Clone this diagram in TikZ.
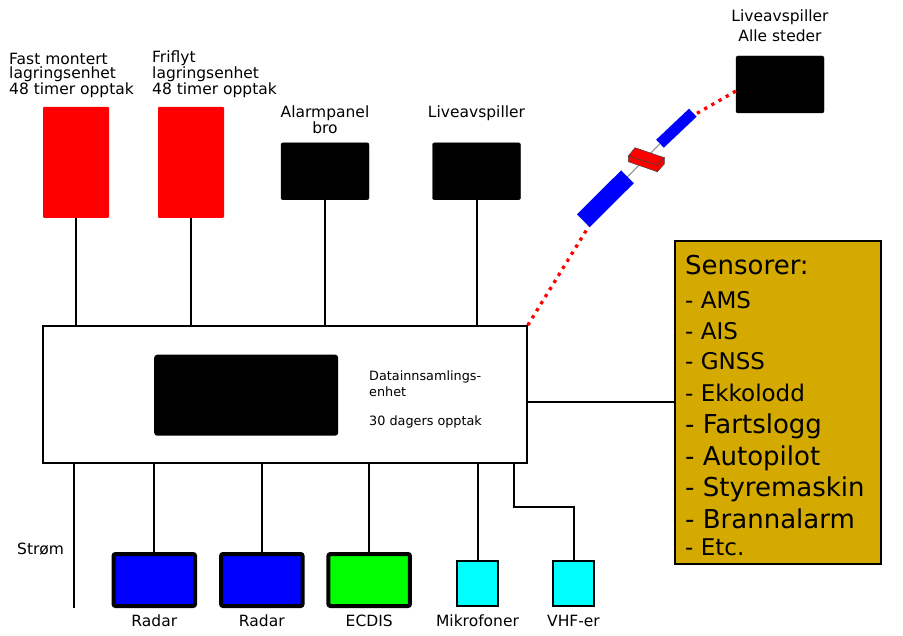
\documentclass[tikz,border=0pt]{standalone}
\usepackage{fontspec}
\setmainfont{DejaVu Sans}
\usetikzlibrary{positioning}
\definecolor{sensgull}{HTML}{D4AA00}
\definecolor{lyscyan}{HTML}{00FFFF}
\definecolor{skjermblaa}{HTML}{0000FF}
\definecolor{skjermgronn}{HTML}{00FF00}

\tikzset{
  lbl/.style={font=\fontsize{15.5}{14.5}\selectfont, inner sep=0pt},
  lagring/.style={fill=red, minimum width=66pt, minimum height=111pt, rounded corners=1pt, inner sep=0pt},
  skjerm/.style={fill=black, draw=black, minimum width=88pt, minimum height=57pt, rounded corners=2pt, inner sep=0pt},
  linje/.style={line width=2pt},
  radarboks/.style={draw=black, line width=4pt, minimum width=81.5pt, minimum height=52pt, rounded corners=2pt, inner sep=0pt},
  lydboks/.style={draw=black, line width=2pt, fill=lyscyan, minimum width=41pt, minimum height=45pt, inner sep=0pt},
  prikker/.style={red, line width=3.3pt, dash pattern=on 3.3pt off 5pt},
}

\begin{document}
\begin{tikzpicture}[x=1pt,y=-1pt]
\useasboundingbox (0,0) rectangle (903,636);

% lagringsenheter
\node[lagring] (fast) at (76,162.5) {};
\node[lagring] (friflyt) at (191,162.5) {};
\node[lbl, anchor=base west, align=left] (fastlbl) at (9,95) {Fast montert\\lagringsenhet\\48 timer opptak};
\node[lbl, anchor=base west, align=left] (friflytlbl) at (152,95) {Friflyt\\lagringsenhet\\48 timer opptak};

% skjermer paa broen
\node[skjerm] (alarm) at (325,171.3) {};
\node[skjerm] (live) at (476.5,171.3) {};
\node[lbl, anchor=base, align=center, font=\fontsize{15.5}{15.3}\selectfont] (alarmlbl) at (325,133.3) {Alarmpanel\\bro};
\node[lbl, anchor=base] (livelbl) at (476.5,118) {Liveavspiller};

% liveavspiller alle steder
\node[skjerm] (liveall) at (780,84.5) {};
\node[lbl, anchor=base, align=center, font=\fontsize{15.5}{20}\selectfont] (liveall lbl) at (780,41.7) {Liveavspiller\\Alle steder};

% datainnsamlingsenhet
\node[draw, fill=white, line width=1.5pt, minimum width=484pt, minimum height=137pt, inner sep=0pt] (dau) at (285,394.5) {};
\node[fill=black, rounded corners=3pt, minimum width=184pt, minimum height=81pt, inner sep=0pt] (daupanel) at (246.2,395.2) {};
\node[anchor=base west, align=left, inner sep=0pt, font=\fontsize{12.8}{17}\selectfont] (dautekst) at (369,426) {Datainnsamlings-\\enhet\\[12pt]30 dagers opptak};

% sensorer
\node[draw, fill=sensgull, line width=2pt, minimum width=206pt, minimum height=323pt, inner sep=0pt] (sensorer) at (778,402.5) {};
\foreach \y/\s/\t in {275/26/Sensorer:, 308.3/23/- AMS, 339.3/23/- AIS, 370/23/- GNSS, 401.7/23/- Ekkolodd,
    434/26/- Fartslogg, 465/26/- Autopilot, 496.7/26/- Styremaskin, 528.3/26/- Brannalarm, 555/23/- Etc.}
  \node[anchor=base west, inner sep=0pt, font=\fontsize{\s}{\s}\selectfont] (sens\y) at (685,\y) {\t};

% utstyr nede
\node[radarboks, fill=skjermblaa] (radarA) at (154.3,580) {};
\node[radarboks, fill=skjermblaa] (radarB) at (261.8,580) {};
\node[radarboks, fill=skjermgronn] (ecdis) at (369.2,580) {};
\node[lydboks] (mik) at (477.5,583.5) {};
\node[lydboks] (vhf) at (573.5,583.5) {};
\foreach \n/\t in {radarA/Radar, radarB/Radar, ecdis/ECDIS, mik/Mikrofoner, vhf/VHF-er}
  \node[lbl, anchor=base] (\n lbl) at (\n.south |- 0,626) {\t};
\node[lbl, anchor=base west] (strom) at (17,554) {Strøm};
\coordinate (stromende) at (74,608);

% forbindelser
\foreach \n in {fast,friflyt,alarm,live}
  \draw[linje] (\n.south) -- (\n.south |- dau.north);
\foreach \n in {radarA,radarB,ecdis,mik}
  \draw[linje] (\n.north) -- (\n.north |- dau.south);
\draw[linje] (stromende |- dau.south) -- (stromende);
\draw[linje] ([xshift=-14pt]dau.south east) -- ++(0,43.7) -| (vhf.north);
\draw[linje] (sensorer.west) -- (sensorer.west -| dau.east);

% satellitt
\coordinate (satlav) at (589,226);
\coordinate (sathoy) at (697,113.3);
\coordinate (liveinn) at (736,91);
\draw[prikker] (dau.north east) -- (satlav);
\draw[prikker] (sathoy) -- (liveinn);
\draw[gray, line width=0.9pt] (627.5,176.8) -- (660,143.7);
\fill[skjermblaa] (576.95,214.3) -- (589.65,227.1) -- (633.85,183.2) -- (621.15,170.4) -- cycle;
\fill[skjermblaa] (656.2,139.7) -- (663.8,147.7) -- (696.6,116.7) -- (689,108.7) -- cycle;
\filldraw[fill=red, draw=black!75, line width=0.5pt] (628.3,156) -- (635,147.7) -- (664.3,157.7) -- (657.3,165.3) -- cycle;
\filldraw[fill=red, draw=black!75, line width=0.5pt] (628.3,156) -- (657.3,165.3) -- (657.3,171.7) -- (628.3,161.7) -- cycle;
\filldraw[fill=red, draw=black!75, line width=0.5pt] (657.3,165.3) -- (664.3,157.7) -- (664.3,164) -- (657.3,171.7) -- cycle;
\end{tikzpicture}
\end{document}
